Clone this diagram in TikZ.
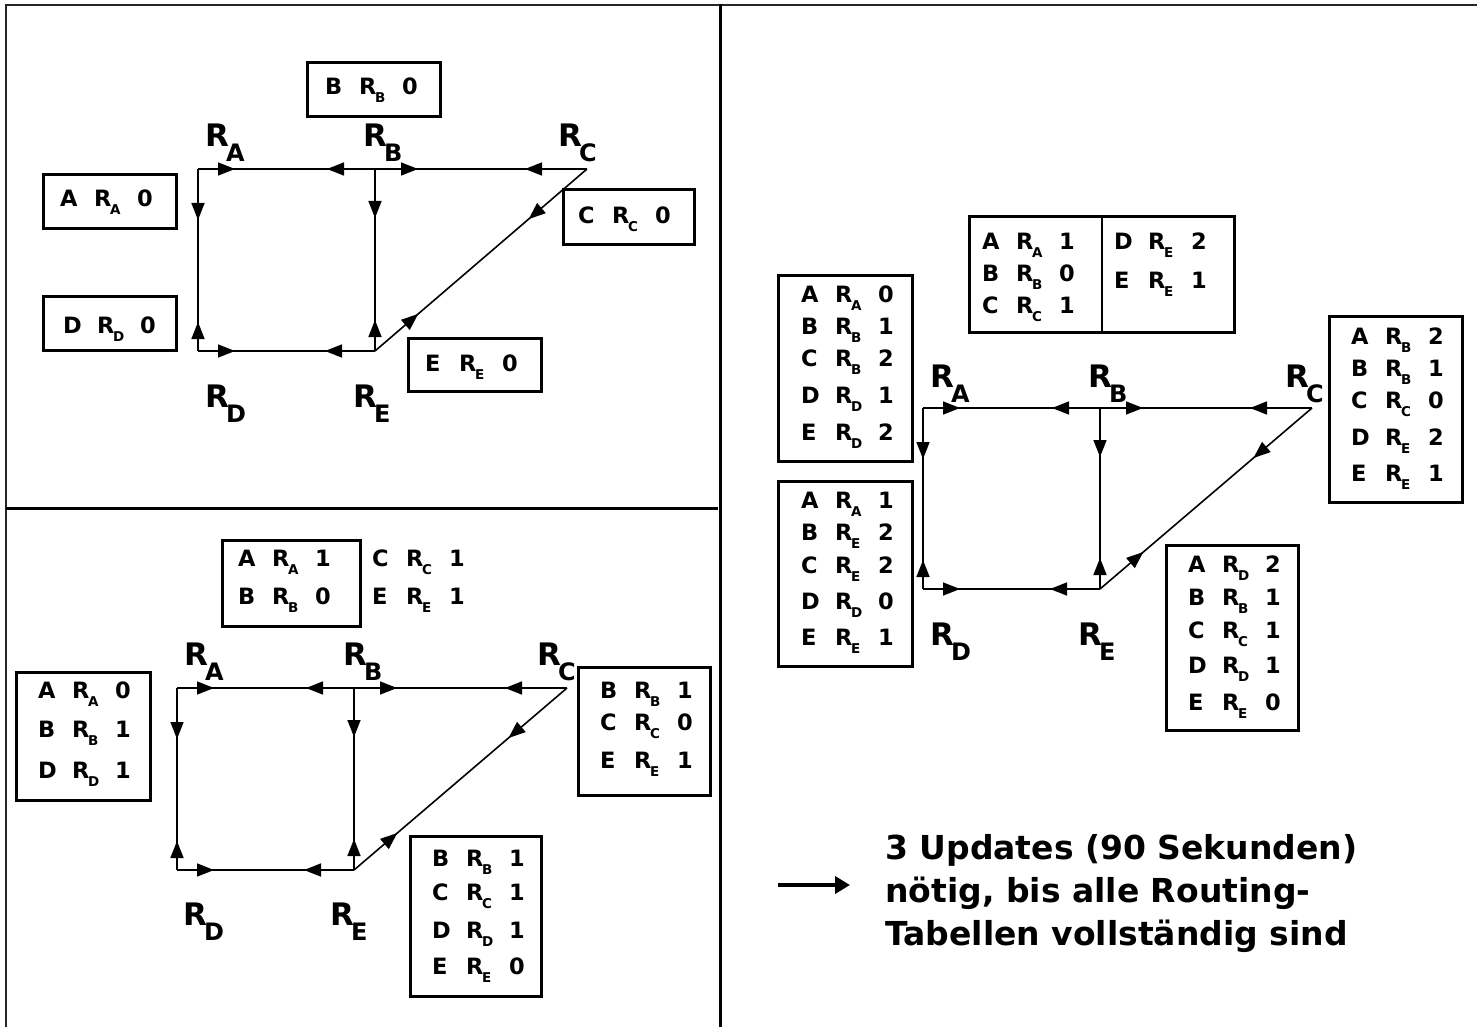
\documentclass[tikz,border=0pt]{standalone}
\usepackage{fontspec}
\setmainfont{DejaVu Sans}
\usetikzlibrary{arrows.meta,decorations.markings}
\newcommand\subf{\fontsize{13.5}{13.5}\selectfont}
\newcommand\rr[3]{\makebox[34pt][l]{#1}\makebox[43pt][l]{R\kern-1.5pt\raisebox{-8pt}{\subf #2}}#3}
\newcommand\rl[1]{R\kern-3pt\raisebox{-15pt}{\fontsize{24}{24}\selectfont #1}}
\begin{document}
\begin{tikzpicture}[x=1pt,y=-1pt,
  tbox/.style={draw,line width=3pt,inner sep=0pt,outer sep=0pt,anchor=north west},
  rowtxt/.style={anchor=base west,inner sep=0pt,font=\fontsize{22.5}{22.5}\selectfont\bfseries},
  rlab/.style={anchor=base west,inner sep=0pt,font=\fontsize{31}{31}\selectfont\bfseries},
  note/.style={anchor=base west,inner sep=0pt,font=\fontsize{33}{33}\selectfont\bfseries},
  tri/.tip={Triangle[length=17pt,width=13pt]},
  link/.style 2 args={line width=1.6pt,postaction={decorate},decoration={markings,
     mark=at position #1 with {\arrow{tri}},
     mark=at position -#2 with {\arrowreversed{tri}}}},
]
\useasboundingbox (0,0) rectangle (1477,1027);
\fill[white] (0,0) rectangle (1477,1027);
% frame
\draw[line width=1.2pt,black!85] (1477,5) -- (6,5) -- (6,1027);
\draw[line width=3pt] (720,4) -- (720,1027);
\draw[line width=3pt] (6,508) -- (718,508);

% ---------------- top-left panel ----------------
\coordinate (tlA) at (198,169);
\coordinate (tlB) at (375,169);
\coordinate (tlC) at (587,169);
\coordinate (tlD) at (198,351);
\coordinate (tlE) at (375,351);
\draw[link={37pt}{48pt}] (tlA) -- (tlB);
\draw[link={43pt}{62pt}] (tlB) -- (tlC);
\draw[link={51pt}{29pt}] (tlA) -- (tlD);
\draw[link={49pt}{31pt}] (tlB) -- (tlE);
\draw[link={37pt}{50pt}] (tlD) -- (tlE);
\draw[link={77pt}{57pt}] (tlC) -- (tlE);
\node[rlab] (tlLA) at (205,147) {\rl{A}};
\node[rlab] (tlLB) at (363,147) {\rl{B}};
\node[rlab] (tlLC) at (558,147) {\rl{C}};
\node[rlab] (tlLD) at (205,407) {\rl{D}};
\node[rlab] (tlLE) at (353,407) {\rl{E}};
\node[tbox,minimum width=133pt,minimum height=54pt] (tlBbox) at (307,63) {};
\node[rowtxt] (tlB1) at (325,95) {\rr{B}{B}{0}};
\node[tbox,minimum width=133pt,minimum height=53pt] (tlAbox) at (43,175) {};
\node[rowtxt] (tlA1) at (60,207) {\rr{A}{A}{0}};
\node[tbox,minimum width=133pt,minimum height=54pt] (tlDbox) at (43,296) {};
\node[rowtxt] (tlD1) at (63,333) {\rr{D}{D}{0}};
\node[tbox,minimum width=131pt,minimum height=54pt] (tlCbox) at (563,190) {};
\node[rowtxt] (tlC1) at (578,223) {\rr{C}{C}{0}};
\node[tbox,minimum width=133pt,minimum height=53pt] (tlEbox) at (408,338) {};
\node[rowtxt] (tlE1) at (425,371) {\rr{E}{E}{0}};

% ---------------- bottom-left panel ----------------
\coordinate (blA) at (177,688);
\coordinate (blB) at (354,688);
\coordinate (blC) at (567,688);
\coordinate (blD) at (177,870);
\coordinate (blE) at (354,870);
\draw[link={37pt}{48pt}] (blA) -- (blB);
\draw[link={43pt}{62pt}] (blB) -- (blC);
\draw[link={51pt}{29pt}] (blA) -- (blD);
\draw[link={49pt}{31pt}] (blB) -- (blE);
\draw[link={37pt}{50pt}] (blD) -- (blE);
\draw[link={77pt}{57pt}] (blC) -- (blE);
\node[rlab] (blLA) at (184,665) {\rl{A}};
\node[rlab] (blLB) at (343,665) {\rl{B}};
\node[rlab] (blLC) at (537,665) {\rl{C}};
\node[rlab] (blLD) at (183,925) {\rl{D}};
\node[rlab] (blLE) at (330,925) {\rl{E}};
\node[tbox,minimum width=138pt,minimum height=86pt] (blBbox) at (222,540) {};
\node[rowtxt] (blB1) at (238,566) {\rr{A}{A}{1}};
\node[rowtxt] (blB2) at (238,604) {\rr{B}{B}{0}};
\node[rowtxt] (blB3) at (372,566) {\rr{C}{C}{1}};
\node[rowtxt] (blB4) at (372,604) {\rr{E}{E}{1}};
\node[tbox,minimum width=134pt,minimum height=128pt] (blAbox) at (16,672) {};
\node[rowtxt] (blA1) at (38,698) {\rr{A}{A}{0}};
\node[rowtxt] (blA2) at (38,737) {\rr{B}{B}{1}};
\node[rowtxt] (blA3) at (38,778) {\rr{D}{D}{1}};
\node[tbox,minimum width=132pt,minimum height=128pt] (blCbox) at (578,667) {};
\node[rowtxt] (blC1) at (600,698) {\rr{B}{B}{1}};
\node[rowtxt] (blC2) at (600,730) {\rr{C}{C}{0}};
\node[rowtxt] (blC3) at (600,768) {\rr{E}{E}{1}};
\node[tbox,minimum width=131pt,minimum height=160pt] (blEbox) at (410,836) {};
\node[rowtxt] (blE1) at (432,866) {\rr{B}{B}{1}};
\node[rowtxt] (blE2) at (432,900) {\rr{C}{C}{1}};
\node[rowtxt] (blE3) at (432,938) {\rr{D}{D}{1}};
\node[rowtxt] (blE4) at (432,974) {\rr{E}{E}{0}};

% ---------------- right panel ----------------
\coordinate (rA) at (923,408);
\coordinate (rB) at (1100,408);
\coordinate (rC) at (1312,408);
\coordinate (rD) at (923,589);
\coordinate (rE) at (1100,589);
\draw[link={37pt}{48pt}] (rA) -- (rB);
\draw[link={43pt}{62pt}] (rB) -- (rC);
\draw[link={51pt}{29pt}] (rA) -- (rD);
\draw[link={49pt}{31pt}] (rB) -- (rE);
\draw[link={37pt}{50pt}] (rD) -- (rE);
\draw[link={77pt}{57pt}] (rC) -- (rE);
\node[rlab] (rLA) at (930,387) {\rl{A}};
\node[rlab] (rLB) at (1088,387) {\rl{B}};
\node[rlab] (rLC) at (1285,387) {\rl{C}};
\node[rlab] (rLD) at (930,645) {\rl{D}};
\node[rlab] (rLE) at (1078,645) {\rl{E}};
\node[tbox,minimum width=265pt,minimum height=116pt] (rBbox) at (969,216) {};
\draw[line width=2pt] (1102,216) -- (1102,332);
\node[rowtxt] (rB1) at (982,249) {\rr{A}{A}{1}};
\node[rowtxt] (rB2) at (982,281) {\rr{B}{B}{0}};
\node[rowtxt] (rB3) at (982,313) {\rr{C}{C}{1}};
\node[rowtxt] (rB4) at (1114,249) {\rr{D}{E}{2}};
\node[rowtxt] (rB5) at (1114,288) {\rr{E}{E}{1}};
\node[tbox,minimum width=134pt,minimum height=186pt] (rAbox) at (778,275) {};
\node[rowtxt] (rA1) at (801,302) {\rr{A}{A}{0}};
\node[rowtxt] (rA2) at (801,334) {\rr{B}{B}{1}};
\node[rowtxt] (rA3) at (801,366) {\rr{C}{B}{2}};
\node[rowtxt] (rA4) at (801,403) {\rr{D}{D}{1}};
\node[rowtxt] (rA5) at (801,440) {\rr{E}{D}{2}};
\node[tbox,minimum width=134pt,minimum height=185pt] (rDbox) at (778,481) {};
\node[rowtxt] (rD1) at (801,508) {\rr{A}{A}{1}};
\node[rowtxt] (rD2) at (801,540) {\rr{B}{E}{2}};
\node[rowtxt] (rD3) at (801,573) {\rr{C}{E}{2}};
\node[rowtxt] (rD4) at (801,609) {\rr{D}{D}{0}};
\node[rowtxt] (rD5) at (801,645) {\rr{E}{E}{1}};
\node[tbox,minimum width=133pt,minimum height=186pt] (rCbox) at (1329,316) {};
\node[rowtxt] (rC1) at (1351,344) {\rr{A}{B}{2}};
\node[rowtxt] (rC2) at (1351,376) {\rr{B}{B}{1}};
\node[rowtxt] (rC3) at (1351,408) {\rr{C}{C}{0}};
\node[rowtxt] (rC4) at (1351,445) {\rr{D}{E}{2}};
\node[rowtxt] (rC5) at (1351,481) {\rr{E}{E}{1}};
\node[tbox,minimum width=132pt,minimum height=185pt] (rEbox) at (1166,545) {};
\node[rowtxt] (rE1) at (1188,572) {\rr{A}{D}{2}};
\node[rowtxt] (rE2) at (1188,605) {\rr{B}{B}{1}};
\node[rowtxt] (rE3) at (1188,638) {\rr{C}{C}{1}};
\node[rowtxt] (rE4) at (1188,673) {\rr{D}{D}{1}};
\node[rowtxt] (rE5) at (1188,710) {\rr{E}{E}{0}};

% note
\coordinate (as) at (778,885);
\coordinate (ae) at (850,885);
\draw[line width=4pt,-{Triangle[length=15pt,width=17pt]}] (as) -- (ae);
\node[note] (n1) at (885,859) {3 Updates (90 Sekunden)};
\node[note] (n2) at (885,902) {nötig, bis alle Routing-};
\node[note] (n3) at (885,945) {Tabellen vollständig sind};
\end{tikzpicture}
\end{document}
